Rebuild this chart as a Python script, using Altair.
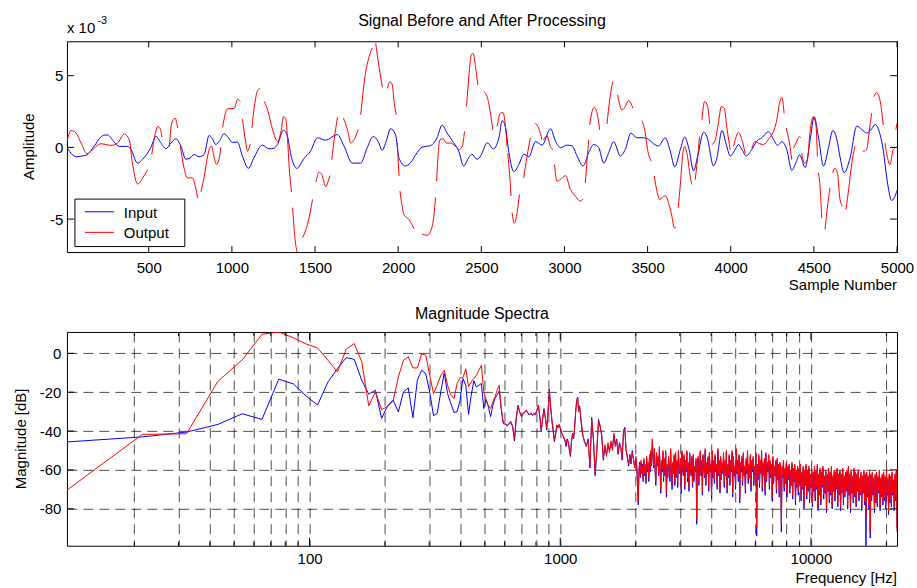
import altair as alt
import numpy as np
import pandas as pd

FONT = "Liberation Sans"
W, H1, H2 = 831, 211, 214
BLUE, RED = "#0000ff", "#ff0000"

# ---------------- top panel data (amplitude in units of 1e-3) ----------------
input_pts = [
    (9, 0.0), (40, -0.5), (63, -0.65), (100, -0.6), (123, -0.55), (173, 0.1), (210, 0.7), (235, 0.86),
    (253, 0.86), (290, 0.4), (323, 0.07), (373, 0.07), (393, -0.15), (433, -1.1), (463, -0.83), (513, 0.0),
    (543, 0.76), (573, 0.32), (603, -0.1), (633, 0.3), (663, 0.6), (693, 0.1), (723, -0.83), (748, -0.75),
    (773, -0.5), (803, -0.65), (833, -0.5), (863, 0.83), (883, 0.6), (903, 0.2), (928, 0.5), (953, 0.95),
    (978, 0.7), (1003, 0.35), (1033, 0.37), (1063, -0.6), (1099, -1.46), (1133, -0.72), (1183, 0.16),
    (1223, -0.1), (1253, -0.05), (1274, 0.2), (1310, 1.2), (1334, 0.8), (1354, -0.48), (1390, -1.46),
    (1434, -0.77), (1474, -0.25), (1514, 0.67), (1564, 0.5), (1634, 0.9), (1674, 0.1), (1724, -1.1),
    (1774, -1.1), (1814, -0.02), (1850, 0.76), (1880, 0.4), (1904, -0.2), (1930, 0.5), (1954, 1.3),
    (1984, 0.9), (2004, -0.72), (2044, -1.3), (2074, -1.07), (2114, -0.37), (2144, 0.02), (2194, 0.12),
    (2234, 0.67), (2264, 1.55), (2294, 1.0), (2334, 0.32), (2364, -0.25), (2394, -1.3), (2424, -0.72),
    (2444, -0.48), (2474, -0.83), (2496, -0.6), (2536, 0.32), (2572, -0.1), (2606, 0.67), (2626, 1.87),
    (2646, 1.36), (2666, -0.37), (2696, -1.7), (2726, -1.18), (2756, -0.48), (2786, -0.65), (2826, 0.4),
    (2866, 0.16), (2916, 1.3), (2946, 0.44), (2976, -0.02), (3016, 0.16), (3046, 0.1), (3076, -0.6),
    (3112, -1.3), (3146, -0.37), (3176, 0.2), (3206, -0.02), (3236, -1.1), (3266, -0.37), (3296, 0.4),
    (3336, -0.6), (3366, -0.14), (3400, 1.0), (3436, 0.67), (3476, 0.67), (3506, 0.56), (3536, 0.25),
    (3566, 0.1), (3606, 0.67), (3636, -0.25), (3663, -1.36), (3697, -0.14), (3723, 0.72), (3747, -0.02),
    (3777, -1.64), (3801, -0.6), (3837, 1.06), (3857, 0.74), (3897, -1.3), (3917, -0.72), (3947, 1.18),
    (3973, 0.2), (3997, -0.6), (4027, -0.14), (4047, 0.2), (4067, -0.14), (4093, -0.6), (4127, -0.14),
    (4157, 0.44), (4187, 0.67), (4227, 1.09), (4257, 0.56), (4281, 0.14), (4307, 0.39), (4337, -0.14),
    (4367, -1.6), (4388, -1.18), (4414, -0.53), (4448, -1.41), (4478, 0.56), (4502, 2.13), (4528, 0.67),
    (4558, -1.3), (4588, -0.02), (4614, 1.18), (4638, 0.56), (4658, -0.72), (4682, -1.76), (4718, -0.72),
    (4758, 1.48), (4788, 1.25), (4818, 1.0), (4848, 1.3), (4868, 1.6), (4898, 0.9), (4918, -0.25),
    (4938, -2.1), (4968, -3.7), (4988, -3.4), (5000, -3.0),
]

output_segments = [
    [(11, 0.53), (33, 1.18), (63, 1.0), (93, 0.3), (129, -0.44), (153, -0.28), (183, 0.07), (213, 0.25),
     (243, 0.2), (273, 0.14), (313, 0.3), (353, 0.93), (383, 0.53), (400, -0.97), (434, -2.55),
     (464, -2.13), (494, -1.55)],
    [(518, -0.5), (538, 0.88), (554, 1.46), (570, 1.27), (580, 0.72)],
    [(624, 0.07), (638, 1.7), (658, 2.04), (674, 1.34)],
    [(690, 0.1), (710, -1.32), (734, -2.13), (764, -2.13), (774, -2.43), (794, -3.52)],
    [(814, -3.1), (834, -2.0), (854, -0.6), (877, 0.1), (893, -0.7), (907, -1.18), (923, -0.83), (933, 0.0)],
    [(944, 1.39), (974, 2.7), (994, 2.7), (1014, 2.72), (1034, 3.36), (1050, 3.2)],
    [(1064, 1.97), (1084, 0.3), (1094, -0.28), (1110, 0.25)],
    [(1120, 1.34), (1138, 3.08), (1154, 3.96), (1170, 4.12)],
    [(1195, 3.2), (1215, 2.6), (1245, 1.23), (1275, 0.42), (1295, 1.1), (1311, 2.15), (1325, 1.92),
     (1335, 0.53), (1345, -1.44), (1359, -3.1)],
    [(1365, -4.2), (1379, -6.3), (1399, -7.6)],
    [(1425, -6.3), (1455, -5.37), (1485, -3.63)],
    [(1505, -2.43), (1525, -1.74), (1541, -1.9), (1565, -2.75), (1579, -2.36), (1591, -1.97)],
    [(1601, -0.86), (1615, 0.53), (1635, 2.1)],
    [(1671, 2.04), (1695, 1.23), (1715, 0.3), (1735, 0.53), (1759, 1.23)],
    [(1775, 2.27), (1795, 4.47), (1825, 6.32), (1845, 6.94)],
    [(1865, 7.25), (1885, 5.6), (1905, 4.19)],
    [(1935, 4.12), (1951, 4.58), (1965, 4.35), (1975, 3.19), (1989, 2.27)],
    [(1995, 0.3), (2005, -2.0)],
    [(2011, -3.05), (2035, -4.68), (2065, -5.03), (2095, -5.67)],
    [(2145, -6.06), (2175, -6.13), (2205, -5.5), (2225, -3.5)],
    [(2231, -2.36), (2251, 0.53), (2270, 0.6), (2290, 0.3), (2315, 0.3), (2345, 0.07), (2365, -0.16),
     (2385, 0.07), (2399, 1.1)],
    [(2411, 2.85), (2425, 4.93), (2439, 6.44), (2451, 6.55), (2465, 5.63), (2479, 4.35)],
    [(2515, 3.89), (2535, 3.54), (2555, 2.38), (2569, 1.23)],
    [(2595, 1.46), (2615, 2.38), (2631, 2.43), (2645, 1.46), (2655, 0.07)],
    [(2659, -0.4), (2671, -2.0), (2679, -3.4)],
    [(2685, -4.56), (2699, -5.3), (2715, -4.56), (2729, -3.29)],
    [(2755, -2.13), (2775, -0.63), (2795, 0.65)],
    [(2825, 1.69), (2845, 1.34), (2865, 0.53)],
    [(2875, 0.53), (2895, 0.81), (2915, 0.07), (2931, -0.16)],
    [(2940, -1.2), (2955, -2.36), (2975, -2.25), (3006, -1.97), (3036, -2.94), (3066, -3.4), (3096, -3.75),
     (3112, -3.59)],
    [(3126, -2.48), (3136, -0.86), (3146, 0.53)],
    [(3152, 1.57), (3166, 2.5), (3180, 2.8), (3196, 2.38), (3212, 1.23)],
    [(3256, 1.64), (3272, 3.31), (3290, 4.58)],
    [(3320, 3.66), (3346, 2.6), (3366, 2.85), (3386, 3.26), (3412, 2.73)],
    [(3466, 1.87), (3486, 1.0), (3500, -0.16), (3522, -0.97)],
    [(3540, -2.0), (3556, -3.05), (3572, -3.63), (3606, -3.36), (3626, -3.87), (3646, -4.79), (3660, -5.6),
     (3670, -5.6)],
    [(3684, -4.21), (3696, -2.71), (3710, -0.63), (3722, 0.07), (3740, -0.63), (3756, -2.0), (3766, -2.59)],
    [(3786, -2.25), (3800, -0.86), (3812, 0.76)],
    [(3827, 1.92), (3843, 3.2), (3861, 2.85), (3873, 1.64)],
    [(3887, 0.19), (3907, 0.53), (3927, 1.8), (3943, 2.85), (3961, 2.73), (3977, 1.34), (3997, -0.16)],
    [(4017, 0.07), (4033, 0.76), (4047, 1.04), (4067, 0.53), (4087, -0.44)],
    [(4127, -0.05), (4147, 0.42), (4167, 0.3), (4197, 0.19), (4227, 0.58), (4257, 1.11), (4277, 1.92),
     (4293, 3.08), (4307, 3.5), (4321, 2.38)],
    [(4333, 1.34), (4353, 0.3), (4367, -0.86)],
    [(4377, -0.05), (4397, 0.42), (4413, 0.76), (4421, 0.65)],
    [(4427, -0.4), (4443, -1.09), (4461, -0.86), (4477, 1.11), (4497, 2.15), (4513, 1.46), (4521, -0.63)],
    [(4527, -1.78), (4537, -2.71), (4547, -4.91)],
    [(4567, -5.72), (4581, -4.21), (4597, -2.82)],
    [(4613, -1.78), (4627, -1.44), (4643, -1.9), (4657, -3.63), (4673, -4.1)],
    [(4693, -4.33), (4709, -2.94), (4727, -1.2), (4747, 0.07)],
    [(4794, -0.28), (4817, -0.16), (4833, 1.11), (4847, 2.38)],
    [(4861, 3.54), (4877, 3.82), (4897, 3.31), (4917, 1.57)],
    [(4927, 0.3), (4941, -0.63), (4957, -1.2), (4977, -0.16), (4987, -0.05)],
    [(4993, 1.23), (5000, 1.69)],
]

top_xticks = [500, 1000, 1500, 2000, 2500, 3000, 3500, 4000, 4500, 5000]
top_yticks = [-5, 0, 5]

# ---------------- bottom panel data (dB) ----------------
DF = 44100 / 4096  # frequency bin width
# bins 1..111
input_db_a = [
    -45.6, -43, -40.5, -36.6, -31.1, -34, -13.3, -15.7, -22,
    -26.6, -14.7, -7.9, -2.2, -3.1, -13.9, -21.0, -19.0, -33.5, -27.0,
    -24.1, -30.1, -19.8, -17.8, -33.1, -13.8, -8.7, -10.4, -20, -32.1,
    -30.9, -19.8, -10.1, -20.7, -25.8, -30.4, -30.1, -24.1, -13, -16.4,
    -31.4, -21.5, -14.2, -17.3, -16.4, -15.5, -28.4, -23.8, -27.5, -32.6,
    -26.7, -23.2, -21.5, -19.3, -28.4, -36.1, -36.5, -37, -36.5, -35.5,
    -38, -45.1, -33.5, -26.7, -30, -32.6, -31, -30, -29.7, -30.5,
    -31.8, -31, -31.5, -31, -31.5, -29, -26.7, -33, -40.3, -34,
    -28.4, -33, -39.5, -30, -18.5, -27, -34.4, -40, -45.5, -42,
    -36.9, -38, -37, -39, -41.2, -42, -43.7, -45, -48, -44,
    -46, -50, -53.1, -45, -41, -44, -38, -30, -24, -22.5, -30, -27,
]
output_db_a = [
    -70.4, -41.7, -41.4, -14.4, -3.4, 9.8, 11, 8, 4.8,
    2.75, -3.6, -9.6, 2.1, 5.0, -4.4, -27, -19.8, -28.9, -27.5,
    -24.6, -12.1, -3.6, -1.9, -7.5, -7.5, -0.2, -1.0, -11.3, -20.7,
    -16.4, -11.3, -8.7, -16.4, -21.5, -23.2, -15.6, -12.6, -12.5, -7.9,
    -17.2, -14.7, -13, -11.3, -8.7, -6.2, -19.5, -24.1, -26.7, -28.4,
    -25, -22.4, -19, -16.4, -28.4, -35.5, -36, -37.5, -36, -35,
    -37.5, -44, -33, -27, -30.5, -32, -31.5, -30.5, -29, -31,
    -31.5, -30.5, -32, -31.5, -31, -29.5, -27, -32.5, -39.5, -33.5,
    -28.8, -33.5, -38.5, -30.5, -19, -27.5, -34, -39, -44, -41.5,
    -37.5, -38.5, -36.5, -38.5, -40.5, -42.5, -43, -44.5, -47, -44.5,
    -45.5, -49, -52, -45.5, -41.5, -43.5, -38.5, -30.5, -24.5, -23, -29.5, -27.5,
]
# every second bin from 112 to 186
input_db_b = [
    -33, -42, -45, -48, -44, -59, -33, -45, -63, -50, -34, -38, -42, -55, -48, -52, -47, -50, -46,
    -49, -42, -47, -44, -52, -46, -48, -55, -40, -38, -50, -53, -58, -52, -57, -50, -55, -58, -54,
]
output_db_b = [
    -32, -41, -46, -47, -45, -58, -34, -44, -62, -49, -35, -37, -43, -54, -47, -53, -46, -51, -45,
    -50, -41, -48, -45, -51, -47, -49, -54, -41, -39, -49, -54, -57, -53, -56, -51, -54, -59, -53,
]
# dense high-frequency band, 2020 Hz .. 22050 Hz on a log-spaced grid
output_db_hf = [
    -58, -66, -76, -60, -57, -63, -55, -61, -58, -65,
    -54, -62, -57, -66, -53, -60, -56, -64, -52, -60,
    -50, -57, -44, -52, -58, -49, -60, -66, -51, -57,
    -53, -62, -48, -58, -70, -55, -60, -50, -64, -54,
    -62, -50, -72, -57, -63, -53, -58, -64, -49, -60,
    -68, -56, -61, -52, -66, -51, -63, -55, -67, -50,
    -58, -61, -54, -70, -50, -59, -62, -52, -68, -55,
    -60, -50, -64, -56, -69, -51, -58, -62, -53, -67,
    -52, -64, -58, -60, -54, -85, -56, -53, -66, -59,
    -50, -62, -55, -71, -52, -58, -63, -49, -66, -56,
    -61, -53, -69, -51, -60, -57, -73, -50, -63, -55,
    -65, -52, -60, -57, -68, -49, -62, -55, -70, -53,
    -64, -56, -61, -51, -67, -55, -62, -50, -70, -57,
    -63, -52, -66, -55, -60, -50, -72, -53, -62, -58,
    -68, -49, -61, -55, -64, -52, -75, -56, -60, -53,
    -66, -51, -62, -58, -70, -54, -61, -50, -65, -57,
    -63, -52, -69, -55, -60, -53, -66, -58, -62, -51,
    -90, -57, -64, -52, -67, -55, -61, -50, -69, -56,
    -62, -54, -71, -51, -65, -56, -60, -52, -68, -55,
    -63, -57, -74, -53, -66, -58, -62, -55, -70, -54,
    -64, -57, -72, -56, -60, -88, -58, -63, -55, -69,
    -59, -66, -56, -72, -58, -64, -57, -70, -60, -67,
    -56, -73, -59, -65, -57, -76, -60, -68, -58, -71,
    -59, -66, -57, -74, -61, -69, -58, -78, -60, -67,
    -57, -73, -60, -70, -58, -75, -62, -68, -59, -77,
    -61, -70, -58, -74, -60, -69, -57, -79, -62, -72,
    -59, -76, -61, -68, -58, -73, -63, -71, -60, -80,
    -62, -70, -59, -75, -61, -72, -58, -78, -63, -70,
    -60, -74, -61, -69, -59, -77, -62, -72, -60, -79,
    -62, -71, -59, -76, -63, -73, -61, -70, -60, -78,
    -58, -72, -62, -80, -60, -71, -63, -75, -59, -73,
    -61, -77, -62, -70, -60, -74, -64, -72, -61, -79,
    -63, -71, -60, -76, -62, -84, -61, -73, -63, -78,
    -60, -92, -62, -74, -61, -72, -64, -80, -62, -75,
    -61, -77, -63, -71, -60, -79, -64, -73, -62, -76,
    -61, -74, -63, -78, -60, -72, -64, -81, -62, -75,
    -63, -77, -61, -72, -65, -79, -62, -74, -60, -92,
]
input_db_hf = [
    -59, -67, -78, -61, -56, -64, -56, -62, -57, -66,
    -55, -63, -58, -67, -54, -61, -57, -66, -53, -61,
    -51, -58, -45, -53, -59, -50, -61, -68, -52, -58,
    -54, -63, -49, -59, -72, -56, -61, -51, -66, -55,
    -63, -51, -74, -58, -64, -54, -59, -66, -50, -61,
    -70, -57, -62, -53, -68, -52, -64, -56, -69, -51,
    -59, -62, -55, -72, -51, -60, -63, -53, -70, -56,
    -61, -51, -66, -57, -71, -52, -59, -63, -54, -69,
    -53, -66, -59, -61, -55, -88, -57, -54, -68, -60,
    -51, -63, -56, -73, -53, -59, -64, -50, -68, -57,
    -62, -54, -71, -52, -61, -58, -75, -51, -64, -56,
    -67, -53, -61, -58, -70, -50, -63, -56, -72, -54,
    -65, -57, -62, -52, -69, -56, -63, -51, -72, -58,
    -64, -53, -68, -56, -61, -51, -74, -54, -63, -59,
    -70, -50, -62, -56, -66, -53, -77, -57, -61, -54,
    -68, -52, -63, -59, -72, -55, -62, -51, -67, -58,
    -64, -53, -71, -56, -61, -54, -68, -59, -63, -52,
    -94, -58, -65, -53, -69, -56, -62, -51, -71, -57,
    -63, -55, -73, -52, -66, -57, -61, -53, -70, -56,
    -64, -58, -76, -54, -67, -59, -63, -56, -72, -55,
    -65, -58, -74, -57, -61, -92, -59, -64, -56, -71,
    -60, -67, -57, -74, -59, -65, -58, -72, -61, -68,
    -57, -75, -60, -66, -58, -78, -61, -69, -59, -73,
    -60, -67, -58, -76, -62, -70, -59, -80, -61, -68,
    -58, -75, -61, -71, -59, -77, -63, -69, -60, -79,
    -62, -71, -59, -76, -61, -70, -58, -81, -63, -73,
    -60, -78, -62, -69, -59, -75, -64, -72, -61, -82,
    -63, -71, -60, -77, -62, -73, -59, -80, -64, -71,
    -61, -76, -62, -70, -60, -79, -63, -73, -61, -81,
    -63, -72, -60, -78, -64, -74, -62, -71, -61, -80,
    -59, -73, -63, -82, -61, -72, -64, -77, -60, -74,
    -62, -79, -63, -71, -61, -76, -65, -73, -62, -81,
    -64, -72, -61, -78, -63, -99, -62, -74, -64, -80,
    -61, -95, -63, -76, -62, -73, -65, -82, -63, -77,
    -62, -79, -64, -72, -61, -81, -65, -74, -63, -78,
    -62, -76, -64, -80, -61, -73, -65, -83, -63, -77,
    -64, -79, -62, -73, -66, -81, -63, -76, -61, -90,
]

bot_major = [100, 1000, 10000]
bot_minor = [20, 30, 40, 50, 60, 70, 80, 90, 200, 300, 400, 500, 600, 700, 800, 900,
             2000, 3000, 4000, 5000, 6000, 7000, 8000, 9000, 20000]
bot_yticks = [-80, -60, -40, -20, 0]

# ---------------- build tables ----------------
df_in = pd.DataFrame(input_pts, columns=["s", "v"])
rows = []
for i, seg in enumerate(output_segments):
    for s, v in seg:
        rows.append({"s": s, "v": v, "seg": i})
df_out = pd.DataFrame(rows)


def spectrum(a, b, hf):
    fa = DF * np.arange(1, len(a) + 1)
    fb = DF * (112 + 2 * np.arange(len(b)))
    fh = np.geomspace(2020, 22050, len(hf))
    return pd.DataFrame({"f": np.concatenate([fa, fb, fh]), "db": list(a) + list(b) + list(hf)})


spec_in = spectrum(input_db_a, input_db_b, input_db_hf)
spec_out = spectrum(output_db_a, output_db_b, output_db_hf)

one = pd.DataFrame({"k": [0]})


def label(text, x, y, size=15, align="left", baseline="alphabetic", angle=0):
    return alt.Chart(one).mark_text(
        text=text, font=FONT, fontSize=size, align=align, baseline=baseline, angle=angle, color="black"
    ).encode(x=alt.value(x), y=alt.value(y))


def spacer(x):
    return alt.Chart(one).mark_rule(opacity=0).encode(x=alt.value(x), x2=alt.value(x + 1), y=alt.value(20))


# ---------------- top panel ----------------
xs1 = alt.Scale(domain=[8, 5000], nice=False, zero=False)
ys1 = alt.Scale(domain=[-7.3, 7.4], nice=False, zero=False)

ax_x1 = alt.Axis(values=top_xticks, title=None, format="d", labelPadding=8, labelFlush=False,
                 labelOverlap=False, grid=False, ticks=False, domain=False)
ax_y1 = alt.Axis(values=top_yticks, title=None, labelPadding=4, grid=False, ticks=False, domain=False,
                 labelExpr="'' + datum.value")

blue_top = alt.Chart(df_in).mark_line(color=BLUE, strokeWidth=1, clip=True, interpolate="monotone").encode(
    x=alt.X("s:Q", scale=xs1, axis=ax_x1), y=alt.Y("v:Q", scale=ys1, axis=ax_y1))
red_top = alt.Chart(df_out).mark_line(color=RED, strokeWidth=1, clip=True, interpolate="monotone").encode(
    x=alt.X("s:Q", scale=xs1, title=None), y=alt.Y("v:Q", scale=ys1, title=None), detail="seg:N")

dfx1 = pd.DataFrame({"t": top_xticks})
dfy1 = pd.DataFrame({"t": top_yticks})
tick_layers_top = [
    alt.Chart(dfx1).mark_rule(color="black", strokeWidth=1).encode(
        x=alt.X("t:Q", scale=xs1, title=None), y=alt.value(0), y2=alt.value(6)),
    alt.Chart(dfx1).mark_rule(color="black", strokeWidth=1).encode(
        x=alt.X("t:Q", scale=xs1, title=None), y=alt.value(H1 - 6), y2=alt.value(H1)),
    alt.Chart(dfy1).mark_rule(color="black", strokeWidth=1).encode(
        y=alt.Y("t:Q", scale=ys1, title=None), x=alt.value(0), x2=alt.value(7)),
    alt.Chart(dfy1).mark_rule(color="black", strokeWidth=1).encode(
        y=alt.Y("t:Q", scale=ys1, title=None), x=alt.value(W - 7), x2=alt.value(W)),
]

legend_layers = [
    alt.Chart(one).mark_rect(fill="white", stroke="black", strokeWidth=1).encode(
        x=alt.value(8), x2=alt.value(118), y=alt.value(158), y2=alt.value(205.5)),
    alt.Chart(one).mark_rule(color=BLUE, strokeWidth=1).encode(
        x=alt.value(18), x2=alt.value(47), y=alt.value(170.7)),
    alt.Chart(one).mark_rule(color=RED, strokeWidth=1).encode(
        x=alt.value(18), x2=alt.value(47), y=alt.value(191.3)),
    label("Input", 57, 176.5),
    label("Output", 57, 197.3),
]

top = alt.layer(
    blue_top, red_top, *tick_layers_top, *legend_layers,
    label("Signal Before and After Processing", W / 2, -15.5, size=16, align="center"),
    label("x 10", 0, -8.7),
    label("-3", 30.5, -17.7, size=11),
    label("Sample Number", W, H1 + 38, align="right"),
    label("Amplitude", -37.5, H1 / 2, angle=270, align="center", baseline="middle"),
    spacer(-56),
).properties(width=W, height=H1)

# ---------------- bottom panel ----------------
xs2 = alt.Scale(type="log", domain=[DF, 22050], nice=False)
ys2 = alt.Scale(domain=[-99, 11], nice=False, zero=False)

ax_x2 = alt.Axis(values=bot_major + bot_minor, title=None, format="d", labelPadding=6, labelFlush=False,
                 labelOverlap=False, grid=True, gridDash=[10, 6], gridColor="#000000", gridOpacity=0.7,
                 gridWidth=1, ticks=False, domain=False,
                 labelExpr="datum.value == 100 || datum.value == 1000 || datum.value == 10000 ? datum.label : ''")
ax_y2 = alt.Axis(values=bot_yticks, title=None, labelPadding=6, grid=True, gridDash=[10, 6],
                 gridColor="#000000", gridOpacity=0.7, gridWidth=1, ticks=False, domain=False,
                 labelExpr="'' + datum.value")

blue_bot = alt.Chart(spec_in).mark_line(color=BLUE, strokeWidth=1, clip=True).encode(
    x=alt.X("f:Q", scale=xs2, axis=ax_x2), y=alt.Y("db:Q", scale=ys2, axis=ax_y2))
red_bot = alt.Chart(spec_out).mark_line(color=RED, strokeWidth=1, clip=True).encode(
    x=alt.X("f:Q", scale=xs2, title=None), y=alt.Y("db:Q", scale=ys2, title=None))

dfmaj = pd.DataFrame({"t": bot_major})
dfmin = pd.DataFrame({"t": bot_minor})
dfy2 = pd.DataFrame({"t": bot_yticks})
tick_layers_bot = [
    alt.Chart(dfmaj).mark_rule(color="black", strokeWidth=1).encode(
        x=alt.X("t:Q", scale=xs2, title=None), y=alt.value(0), y2=alt.value(8)),
    alt.Chart(dfmaj).mark_rule(color="black", strokeWidth=1).encode(
        x=alt.X("t:Q", scale=xs2, title=None), y=alt.value(H2 - 8), y2=alt.value(H2)),
    alt.Chart(dfmin).mark_rule(color="black", strokeWidth=1).encode(
        x=alt.X("t:Q", scale=xs2, title=None), y=alt.value(0), y2=alt.value(4)),
    alt.Chart(dfmin).mark_rule(color="black", strokeWidth=1).encode(
        x=alt.X("t:Q", scale=xs2, title=None), y=alt.value(H2 - 4), y2=alt.value(H2)),
    alt.Chart(dfy2).mark_rule(color="black", strokeWidth=1).encode(
        y=alt.Y("t:Q", scale=ys2, title=None), x=alt.value(0), x2=alt.value(7)),
    alt.Chart(dfy2).mark_rule(color="black", strokeWidth=1).encode(
        y=alt.Y("t:Q", scale=ys2, title=None), x=alt.value(W - 7), x2=alt.value(W)),
]

bottom = alt.layer(
    blue_bot, red_bot, *tick_layers_bot,
    label("Magnitude Spectra", W / 2, -13, size=16, align="center"),
    label("Frequency [Hz]", W, H2 + 37.7, align="right"),
    label("Magnitude [dB]", -46, H2 / 2, angle=270, align="center", baseline="middle"),
    spacer(-56),
).properties(width=W, height=H2)

chart = alt.vconcat(top, bottom, spacing=11).properties(
    padding={"left": 10, "top": 12, "right": 2, "bottom": 2},
    background="white",
).configure_view(stroke="black", strokeWidth=1).configure_axis(
    labelFont=FONT, labelFontSize=15, labelColor="black"
)

chart.save("out.html", embed_options={"renderer": "svg", "actions": False})
